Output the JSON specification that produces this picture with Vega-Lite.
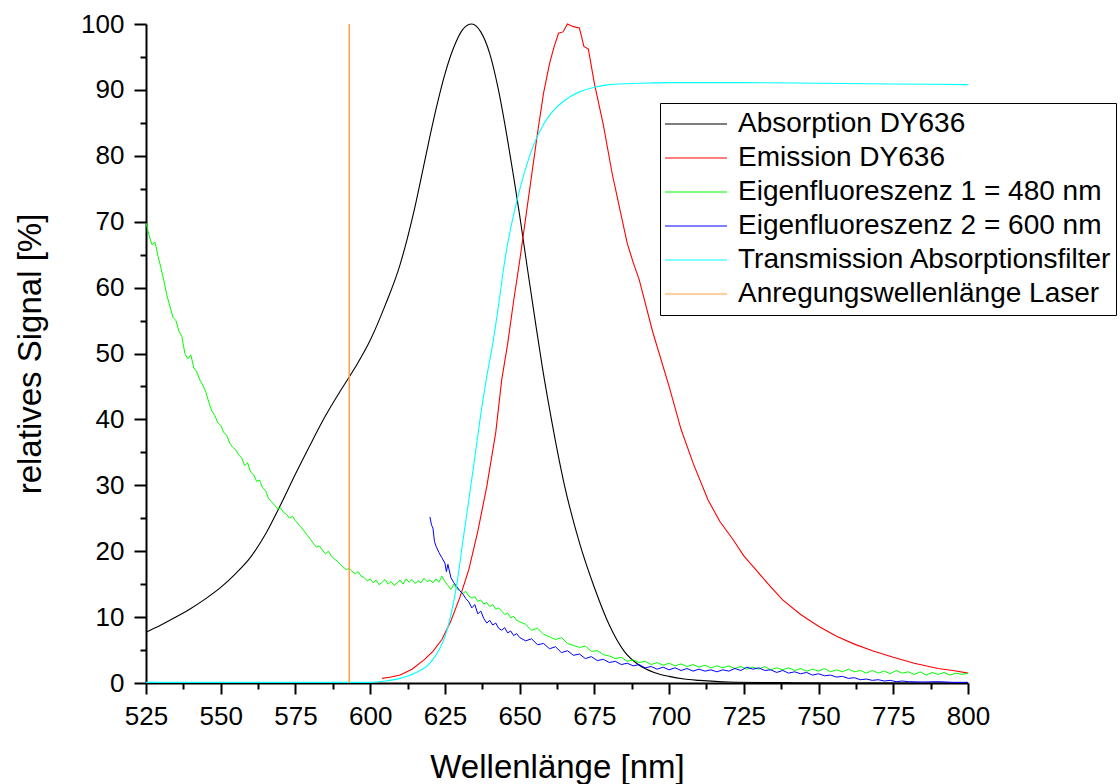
{
  "$schema": "https://vega.github.io/schema/vega-lite/v6.json",
  "width": 822,
  "height": 659,
  "autosize": {"type": "none"},
  "padding": {"left": 146, "top": 24, "right": 152, "bottom": 101},
  "background": "white",
  "config": {
    "view": {"stroke": null},
    "font": "Liberation Sans",
    "axis": {"grid": false, "domainColor": "black", "tickColor": "black", "labelColor": "black", "titleColor": "black", "labelFont": "Liberation Sans", "titleFont": "Liberation Sans", "titleFontWeight": "normal", "labelFlush": false, "labelOverlap": false},
    "legend": {"labelFont": "Liberation Sans"}
  },
  "datasets": {
    "abs": [
      {"x":525,"y":7.7},{"x":530,"y":8.8},{"x":535,"y":10.0},{"x":540,"y":11.3},{"x":545,"y":12.8},{"x":550,"y":14.5},{"x":555,"y":16.6},{"x":560,"y":19.1},{"x":565,"y":22.6},{"x":570,"y":27.0},{"x":575,"y":31.7},{"x":580,"y":36.2},{"x":585,"y":40.5},{"x":590,"y":44.3},{"x":595,"y":47.9},{"x":600,"y":52.0},{"x":605,"y":57.3},{"x":610,"y":63.5},{"x":612.5,"y":67.6},{"x":615,"y":72.3},{"x":617.5,"y":77.6},{"x":620,"y":83.0},{"x":622.5,"y":88.0},{"x":625,"y":92.4},{"x":628,"y":96.5},{"x":631,"y":99.2},{"x":634,"y":100},{"x":637,"y":98.8},{"x":640,"y":95.5},{"x":643,"y":89.8},{"x":646,"y":82.3},{"x":648,"y":76.8},{"x":650,"y":71.0},{"x":652.5,"y":63.2},{"x":655,"y":55.6},{"x":657.5,"y":48.2},{"x":660,"y":41.6},{"x":665,"y":30.0},{"x":670,"y":21.3},{"x":675,"y":14.5},{"x":680,"y":8.8},{"x":685,"y":4.8},{"x":690,"y":2.7},{"x":695,"y":1.6},{"x":700,"y":1.0},{"x":705,"y":0.6},{"x":710,"y":0.4},{"x":720,"y":0.15},{"x":740,"y":0.05},{"x":760,"y":0.0},{"x":800,"y":0.0}
    ],
    "em": [
      {"x":604,"y":0.7},{"x":607,"y":0.9},{"x":610,"y":1.2},{"x":614,"y":2.1},{"x":618,"y":3.5},{"x":621,"y":4.8},{"x":624,"y":6.6},{"x":627,"y":9.4},{"x":630,"y":13.0},{"x":633,"y":17.2},{"x":636,"y":23.0},{"x":639,"y":29.8},{"x":642,"y":38.0},{"x":644,"y":46.0},{"x":646,"y":51.5},{"x":648,"y":58.0},{"x":650,"y":64.0},{"x":652,"y":70.5},{"x":654,"y":77.0},{"x":656,"y":83.5},{"x":658,"y":89.5},{"x":660,"y":94.0},{"x":661.5,"y":96.5},{"x":663,"y":98.6},{"x":664.5,"y":98.8},{"x":666,"y":100},{"x":668,"y":99.6},{"x":670,"y":99.4},{"x":671.5,"y":96.6},{"x":673,"y":96.2},{"x":675,"y":91.0},{"x":678,"y":84.7},{"x":681,"y":77.2},{"x":683,"y":73.0},{"x":686,"y":66.7},{"x":688,"y":63.8},{"x":690,"y":61.2},{"x":694.5,"y":53.3},{"x":700,"y":45.0},{"x":704,"y":38.5},{"x":708,"y":33.4},{"x":713,"y":27.8},{"x":717,"y":24.5},{"x":721.5,"y":21.7},{"x":725,"y":19.3},{"x":729,"y":17.2},{"x":734,"y":14.6},{"x":738,"y":12.6},{"x":744,"y":10.4},{"x":750,"y":8.6},{"x":756,"y":7.1},{"x":762,"y":5.9},{"x":768,"y":4.9},{"x":775,"y":3.9},{"x":782,"y":3.0},{"x":790,"y":2.2},{"x":795,"y":1.9},{"x":800,"y":1.5}
    ],
    "ef1": [
      {"x":525,"y":69.8},{"x":526,"y":68.0},{"x":527,"y":66.5},{"x":528,"y":66.9},{"x":529,"y":64.8},{"x":530,"y":63.0},{"x":531,"y":61.0},{"x":532,"y":58.8},{"x":533,"y":57.2},{"x":534,"y":55.5},{"x":535,"y":55.0},{"x":536,"y":53.4},{"x":537,"y":52.6},{"x":538,"y":50.0},{"x":539,"y":49.2},{"x":540,"y":49.8},{"x":541,"y":47.8},{"x":542,"y":47.2},{"x":543,"y":46.0},{"x":544,"y":45.2},{"x":545,"y":44.2},{"x":546,"y":42.6},{"x":547,"y":41.3},{"x":548,"y":40.6},{"x":549,"y":39.5},{"x":550,"y":39.1},{"x":551,"y":38.0},{"x":552,"y":37.6},{"x":553,"y":36.4},{"x":554,"y":35.8},{"x":555,"y":35.4},{"x":556,"y":34.6},{"x":557,"y":34.2},{"x":558,"y":33.0},{"x":559,"y":33.4},{"x":560,"y":32.0},{"x":561,"y":31.6},{"x":562,"y":30.6},{"x":563,"y":30.8},{"x":564,"y":29.6},{"x":565,"y":29.2},{"x":566,"y":28.0},{"x":567,"y":27.5},{"x":568,"y":27.0},{"x":569,"y":26.4},{"x":570,"y":26.6},{"x":571,"y":25.9},{"x":572,"y":25.6},{"x":573,"y":25.0},{"x":574,"y":25.3},{"x":575,"y":24.6},{"x":576,"y":24.1},{"x":577,"y":23.6},{"x":578,"y":23.0},{"x":579,"y":22.4},{"x":580,"y":21.8},{"x":581,"y":21.2},{"x":582,"y":20.6},{"x":583,"y":20.8},{"x":584,"y":20.2},{"x":585,"y":19.6},{"x":586,"y":20.0},{"x":587,"y":19.3},{"x":588,"y":18.8},{"x":589,"y":18.5},{"x":590,"y":18.0},{"x":591,"y":17.6},{"x":592,"y":17.2},{"x":593,"y":17.4},{"x":594,"y":16.9},{"x":595,"y":16.6},{"x":596,"y":16.9},{"x":597,"y":16.2},{"x":598,"y":16.0},{"x":599,"y":15.5},{"x":600,"y":15.8},{"x":601,"y":15.2},{"x":602,"y":15.6},{"x":603,"y":14.9},{"x":604,"y":15.3},{"x":605,"y":15.7},{"x":606,"y":15.0},{"x":607,"y":15.4},{"x":608,"y":14.8},{"x":609,"y":15.2},{"x":610,"y":15.6},{"x":611,"y":15.0},{"x":612,"y":15.8},{"x":613,"y":15.3},{"x":614,"y":15.7},{"x":615,"y":15.1},{"x":616,"y":15.5},{"x":617,"y":15.2},{"x":618,"y":15.9},{"x":619,"y":15.4},{"x":620,"y":15.6},{"x":621,"y":15.2},{"x":622,"y":15.8},{"x":623,"y":15.3},{"x":624,"y":16.2},{"x":625,"y":15.4},{"x":626,"y":14.8},{"x":627,"y":14.2},{"x":628,"y":15.0},{"x":629,"y":14.3},{"x":630,"y":14.0},{"x":631,"y":13.6},{"x":632,"y":13.9},{"x":633,"y":13.2},{"x":634,"y":12.9},{"x":635,"y":13.1},{"x":636,"y":12.4},{"x":637,"y":12.6},{"x":638,"y":12.0},{"x":639,"y":12.2},{"x":640,"y":11.6},{"x":641,"y":11.9},{"x":642,"y":11.2},{"x":643,"y":11.4},{"x":644,"y":10.9},{"x":645,"y":10.4},{"x":646,"y":10.6},{"x":647,"y":9.9},{"x":648,"y":10.1},{"x":649,"y":9.5},{"x":650,"y":9.3},{"x":652,"y":8.9},{"x":654,"y":8.0},{"x":656,"y":8.3},{"x":658,"y":7.4},{"x":660,"y":7.0},{"x":662,"y":6.6},{"x":664,"y":6.9},{"x":666,"y":6.0},{"x":668,"y":5.7},{"x":670,"y":5.4},{"x":672,"y":5.6},{"x":674,"y":4.8},{"x":676,"y":4.9},{"x":678,"y":4.3},{"x":680,"y":4.1},{"x":682,"y":3.7},{"x":684,"y":3.9},{"x":686,"y":3.3},{"x":688,"y":3.5},{"x":690,"y":3.1},{"x":692,"y":3.3},{"x":694,"y":2.8},{"x":696,"y":3.1},{"x":698,"y":2.7},{"x":700,"y":3.0},{"x":702,"y":2.6},{"x":704,"y":2.9},{"x":706,"y":2.5},{"x":708,"y":2.8},{"x":710,"y":2.4},{"x":712,"y":2.7},{"x":714,"y":2.3},{"x":716,"y":2.6},{"x":718,"y":2.3},{"x":720,"y":2.6},{"x":722,"y":2.2},{"x":724,"y":2.5},{"x":726,"y":2.1},{"x":728,"y":2.4},{"x":730,"y":2.1},{"x":732,"y":2.5},{"x":734,"y":2.0},{"x":736,"y":2.3},{"x":738,"y":2.0},{"x":740,"y":2.3},{"x":742,"y":1.9},{"x":744,"y":2.2},{"x":746,"y":1.8},{"x":748,"y":2.1},{"x":750,"y":1.8},{"x":752,"y":2.2},{"x":754,"y":1.7},{"x":756,"y":2.0},{"x":758,"y":1.7},{"x":760,"y":2.1},{"x":762,"y":1.7},{"x":764,"y":1.9},{"x":766,"y":1.5},{"x":768,"y":1.9},{"x":770,"y":1.5},{"x":772,"y":1.8},{"x":774,"y":1.4},{"x":776,"y":1.9},{"x":778,"y":1.5},{"x":780,"y":1.7},{"x":782,"y":1.3},{"x":784,"y":1.7},{"x":786,"y":1.2},{"x":788,"y":1.6},{"x":790,"y":1.3},{"x":792,"y":1.6},{"x":794,"y":1.2},{"x":796,"y":1.5},{"x":798,"y":1.3},{"x":800,"y":1.5}
    ],
    "ef2": [
      {"x":620,"y":25.2},{"x":620.5,"y":24.0},{"x":621,"y":23.5},{"x":621.5,"y":21.5},{"x":622,"y":20.8},{"x":623,"y":19.8},{"x":624,"y":19.0},{"x":625,"y":18.2},{"x":625.5,"y":16.9},{"x":626,"y":18.0},{"x":627,"y":16.0},{"x":628,"y":15.2},{"x":629,"y":14.6},{"x":630,"y":14.0},{"x":631,"y":13.5},{"x":632,"y":12.8},{"x":633,"y":12.3},{"x":634,"y":11.4},{"x":635,"y":11.9},{"x":636,"y":10.5},{"x":637,"y":10.9},{"x":638,"y":9.8},{"x":639,"y":9.1},{"x":640,"y":9.5},{"x":641,"y":8.8},{"x":642,"y":9.1},{"x":643,"y":8.3},{"x":644,"y":8.0},{"x":645,"y":8.4},{"x":646,"y":7.6},{"x":647,"y":7.9},{"x":648,"y":7.2},{"x":649,"y":7.5},{"x":650,"y":6.9},{"x":652,"y":6.4},{"x":654,"y":6.7},{"x":656,"y":5.8},{"x":658,"y":6.0},{"x":660,"y":5.2},{"x":662,"y":5.5},{"x":664,"y":4.6},{"x":666,"y":4.9},{"x":668,"y":4.2},{"x":670,"y":4.4},{"x":672,"y":3.7},{"x":674,"y":4.0},{"x":676,"y":3.4},{"x":678,"y":3.6},{"x":680,"y":3.1},{"x":682,"y":3.3},{"x":684,"y":2.8},{"x":686,"y":3.0},{"x":688,"y":2.6},{"x":690,"y":2.8},{"x":692,"y":2.3},{"x":694,"y":2.5},{"x":696,"y":2.1},{"x":698,"y":2.4},{"x":700,"y":2.0},{"x":702,"y":2.3},{"x":704,"y":1.9},{"x":706,"y":2.2},{"x":708,"y":1.8},{"x":710,"y":2.1},{"x":712,"y":1.8},{"x":714,"y":2.0},{"x":716,"y":1.7},{"x":718,"y":2.0},{"x":720,"y":1.8},{"x":722,"y":2.2},{"x":724,"y":1.9},{"x":726,"y":2.4},{"x":728,"y":2.1},{"x":730,"y":2.3},{"x":732,"y":1.9},{"x":734,"y":2.0},{"x":736,"y":1.6},{"x":738,"y":1.9},{"x":740,"y":1.5},{"x":742,"y":1.7},{"x":744,"y":1.4},{"x":746,"y":1.6},{"x":748,"y":1.2},{"x":750,"y":1.4},{"x":752,"y":1.1},{"x":754,"y":1.2},{"x":756,"y":0.9},{"x":758,"y":1.0},{"x":760,"y":0.7},{"x":762,"y":0.8},{"x":764,"y":0.5},{"x":766,"y":0.6},{"x":768,"y":0.4},{"x":770,"y":0.5},{"x":772,"y":0.3},{"x":774,"y":0.4},{"x":776,"y":0.2},{"x":778,"y":0.3},{"x":780,"y":0.2},{"x":785,"y":0.15},{"x":790,"y":0.2},{"x":795,"y":0.1},{"x":800,"y":0.1}
    ],
    "tr": [
      {"x":525,"y":0.1},{"x":550,"y":0.1},{"x":575,"y":0.1},{"x":600,"y":0.1},{"x":605,"y":0.3},{"x":610,"y":0.7},{"x":615,"y":1.5},{"x":620,"y":3.0},{"x":623,"y":5.0},{"x":625,"y":7.0},{"x":627,"y":10.3},{"x":629,"y":15.0},{"x":631,"y":21.5},{"x":633,"y":27.8},{"x":635,"y":34.2},{"x":637,"y":40.8},{"x":639,"y":46.5},{"x":641,"y":51.5},{"x":643,"y":57.5},{"x":645,"y":64.0},{"x":647,"y":69.0},{"x":649,"y":73.0},{"x":651,"y":76.5},{"x":653,"y":79.5},{"x":655,"y":82.0},{"x":658,"y":84.8},{"x":661,"y":86.7},{"x":665,"y":88.4},{"x":670,"y":89.7},{"x":675,"y":90.4},{"x":680,"y":90.8},{"x":690,"y":91.0},{"x":700,"y":91.1},{"x":725,"y":91.1},{"x":750,"y":91.0},{"x":775,"y":90.9},{"x":800,"y":90.8}
    ],
    "laser": [
      {"x":593,"y":0},{"x":593,"y":100}
    ]
  },
  "resolve": {"axis": {"x": "independent", "y": "independent"}},
  "layer": [
    {
      "data": {"name": "abs"},
      "mark": {"type": "line", "strokeWidth": 1.1, "interpolate": "monotone"},
      "encoding": {
        "x": {"field": "x", "type": "quantitative", "scale": {"domain": [525, 800], "nice": false, "zero": false},
          "axis": {"orient": "bottom", "values": [525,550,575,600,625,650,675,700,725,750,775,800], "tickSize": 11, "tickWidth": 2, "domainWidth": 2, "labelFontSize": 26, "labelPadding": 9, "title": "Wellenlänge [nm]", "titleFontSize": 33, "titlePadding": 22}},
        "y": {"field": "y", "type": "quantitative", "scale": {"domain": [0, 100], "nice": false},
          "axis": {"orient": "left", "values": [0,10,20,30,40,50,60,70,80,90,100], "tickSize": 12, "tickWidth": 2, "domainWidth": 2, "labelFontSize": 26, "labelPadding": 10, "title": "relatives Signal [%]", "titleFontSize": 33, "titlePadding": 33}},
        "color": {"datum": "Absorption DY636", "type": "nominal",
          "scale": {"domain": ["Absorption DY636", "Emission DY636", "Eigenfluoreszenz 1 = 480 nm", "Eigenfluoreszenz 2 = 600 nm", "Transmission Absorptionsfilter", "Anregungswellenlänge Laser"],
                    "range": ["#000000", "#FF0000", "#00FF00", "#0000FF", "#00FFFF", "#FFA040"]},
          "legend": {"orient": "none", "legendX": 514, "legendY": 79, "title": null, "strokeColor": "black", "padding": 4, "symbolType": "stroke", "symbolSize": 3844, "symbolStrokeWidth": 1.2, "labelFontSize": 28, "labelColor": "black", "labelOffset": 10, "labelLimit": 600, "clipHeight": 34, "rowPadding": 0}}
      }
    },
    {
      "data": {"name": "em"},
      "mark": {"type": "line", "strokeWidth": 1.1},
      "encoding": {
        "x": {"field": "x", "type": "quantitative", "axis": {"orient": "bottom", "values": [537.5,562.5,587.5,612.5,637.5,662.5,687.5,712.5,737.5,762.5,787.5], "tickSize": 6, "tickWidth": 2, "labels": false, "domain": false, "title": null}},
        "y": {"field": "y", "type": "quantitative", "axis": {"orient": "left", "values": [5,15,25,35,45,55,65,75,85,95], "tickSize": 6, "tickWidth": 2, "labels": false, "domain": false, "title": null}},
        "color": {"datum": "Emission DY636", "type": "nominal"}
      }
    },
    {
      "data": {"name": "ef1"},
      "mark": {"type": "line", "strokeWidth": 1},
      "encoding": {
        "x": {"field": "x", "type": "quantitative", "axis": null},
        "y": {"field": "y", "type": "quantitative", "axis": null},
        "color": {"datum": "Eigenfluoreszenz 1 = 480 nm", "type": "nominal"}
      }
    },
    {
      "data": {"name": "ef2"},
      "mark": {"type": "line", "strokeWidth": 1},
      "encoding": {
        "x": {"field": "x", "type": "quantitative", "axis": null},
        "y": {"field": "y", "type": "quantitative", "axis": null},
        "color": {"datum": "Eigenfluoreszenz 2 = 600 nm", "type": "nominal"}
      }
    },
    {
      "data": {"name": "tr"},
      "mark": {"type": "line", "strokeWidth": 1.1, "interpolate": "monotone"},
      "encoding": {
        "x": {"field": "x", "type": "quantitative", "axis": null},
        "y": {"field": "y", "type": "quantitative", "axis": null},
        "color": {"datum": "Transmission Absorptionsfilter", "type": "nominal"}
      }
    },
    {
      "data": {"name": "laser"},
      "mark": {"type": "line", "strokeWidth": 1.5},
      "encoding": {
        "x": {"field": "x", "type": "quantitative", "axis": null},
        "y": {"field": "y", "type": "quantitative", "axis": null},
        "color": {"datum": "Anregungswellenlänge Laser", "type": "nominal"}
      }
    }
  ]
}
